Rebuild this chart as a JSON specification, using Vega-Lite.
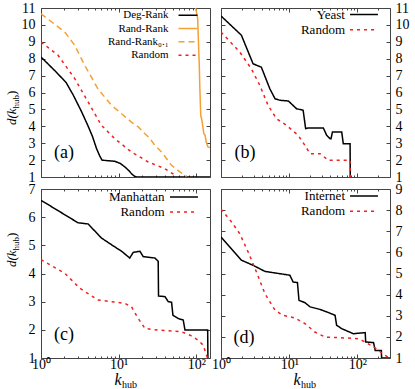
{
"$schema": "https://vega.github.io/schema/vega-lite/v6.json",
"padding": {"left": 4, "top": 0, "right": 0, "bottom": 0},
"config": {
  "view": {"stroke": "#444", "strokeWidth": 1},
  "axis": {"grid": false, "domain": false, "tickColor": "#444", "tickWidth": 1, "labelFont": "Liberation Serif", "labelFontSize": 14, "labelColor": "#000", "titleFont": "Liberation Serif", "titleColor": "#000", "titleFontWeight": "normal", "labelFlush": false, "labelOverlap": false, "labelBound": false},
  "text": {"font": "Liberation Serif"}
},
"datasets": {
  "a": [
    {"series": "Deg-Rank", "k": 1, "d": 8.1}, {"series": "Deg-Rank", "k": 1.5, "d": 7.3}, {"series": "Deg-Rank", "k": 2.1, "d": 6.6}, {"series": "Deg-Rank", "k": 2.6, "d": 5.85}, {"series": "Deg-Rank", "k": 3.3, "d": 4.9}, {"series": "Deg-Rank", "k": 4.0, "d": 4.06}, {"series": "Deg-Rank", "k": 4.6, "d": 3.4}, {"series": "Deg-Rank", "k": 5.2, "d": 2.67}, {"series": "Deg-Rank", "k": 5.7, "d": 2.25}, {"series": "Deg-Rank", "k": 6.1, "d": 2.0}, {"series": "Deg-Rank", "k": 7, "d": 1.97}, {"series": "Deg-Rank", "k": 8.9, "d": 1.93}, {"series": "Deg-Rank", "k": 10.5, "d": 1.8}, {"series": "Deg-Rank", "k": 12, "d": 1.6}, {"series": "Deg-Rank", "k": 13.5, "d": 1.38}, {"series": "Deg-Rank", "k": 14.6, "d": 1.2}, {"series": "Deg-Rank", "k": 16, "d": 1.04}, {"series": "Deg-Rank", "k": 17, "d": 1.0}, {"series": "Deg-Rank", "k": 150, "d": 1.0},
    {"series": "Rand-Rank", "k": 96, "d": 11.2}, {"series": "Rand-Rank", "k": 104, "d": 10.4}, {"series": "Rand-Rank", "k": 109.5, "d": 7.4}, {"series": "Rand-Rank", "k": 110.7, "d": 6.4}, {"series": "Rand-Rank", "k": 114, "d": 4.65}, {"series": "Rand-Rank", "k": 118, "d": 4.36}, {"series": "Rand-Rank", "k": 125, "d": 3.56}, {"series": "Rand-Rank", "k": 130, "d": 3.46}, {"series": "Rand-Rank", "k": 134, "d": 3.07}, {"series": "Rand-Rank", "k": 141, "d": 2.78}, {"series": "Rand-Rank", "k": 150, "d": 2.75},
    {"series": "Rand-Rank₀.₁", "k": 1, "d": 10.66}, {"series": "Rand-Rank₀.₁", "k": 2.02, "d": 9.58}, {"series": "Rand-Rank₀.₁", "k": 2.72, "d": 8.79}, {"series": "Rand-Rank₀.₁", "k": 3.66, "d": 7.6}, {"series": "Rand-Rank₀.₁", "k": 5.4, "d": 6.22}, {"series": "Rand-Rank₀.₁", "k": 8.1, "d": 5.24}, {"series": "Rand-Rank₀.₁", "k": 14.6, "d": 4.25}, {"series": "Rand-Rank₀.₁", "k": 18, "d": 3.95}, {"series": "Rand-Rank₀.₁", "k": 21.8, "d": 3.56}, {"series": "Rand-Rank₀.₁", "k": 25, "d": 3.3}, {"series": "Rand-Rank₀.₁", "k": 29.3, "d": 2.87}, {"series": "Rand-Rank₀.₁", "k": 35.7, "d": 2.48}, {"series": "Rand-Rank₀.₁", "k": 42, "d": 2.05}, {"series": "Rand-Rank₀.₁", "k": 48, "d": 1.69}, {"series": "Rand-Rank₀.₁", "k": 61.5, "d": 1.3}, {"series": "Rand-Rank₀.₁", "k": 75, "d": 1.04},
    {"series": "Random", "k": 1, "d": 8.99}, {"series": "Random", "k": 1.66, "d": 8.2}, {"series": "Random", "k": 2.72, "d": 6.82}, {"series": "Random", "k": 4.04, "d": 5.44}, {"series": "Random", "k": 6.0, "d": 4.06}, {"series": "Random", "k": 8.9, "d": 3.27}, {"series": "Random", "k": 14.6, "d": 2.48}, {"series": "Random", "k": 24, "d": 1.89}, {"series": "Random", "k": 39.5, "d": 1.49}, {"series": "Random", "k": 56, "d": 1.04}
  ],
  "b": [
    {"series": "Yeast", "k": 1, "d": 10.53}, {"series": "Yeast", "k": 1.99, "d": 9.39}, {"series": "Yeast", "k": 2.95, "d": 7.7}, {"series": "Yeast", "k": 3.9, "d": 7.5}, {"series": "Yeast", "k": 5.2, "d": 6.22}, {"series": "Yeast", "k": 6.2, "d": 5.63}, {"series": "Yeast", "k": 7.3, "d": 5.54}, {"series": "Yeast", "k": 9.7, "d": 5.5}, {"series": "Yeast", "k": 12.8, "d": 5.04}, {"series": "Yeast", "k": 16, "d": 4.95}, {"series": "Yeast", "k": 17.4, "d": 3.86}, {"series": "Yeast", "k": 19, "d": 3.9}, {"series": "Yeast", "k": 31.6, "d": 3.9}, {"series": "Yeast", "k": 35.4, "d": 3.47}, {"series": "Yeast", "k": 39.6, "d": 3.27}, {"series": "Yeast", "k": 41, "d": 3.27}, {"series": "Yeast", "k": 43, "d": 3.66}, {"series": "Yeast", "k": 58.8, "d": 3.66}, {"series": "Yeast", "k": 62, "d": 2.97}, {"series": "Yeast", "k": 78, "d": 2.97}, {"series": "Yeast", "k": 78.5, "d": 1.0},
    {"series": "Random", "k": 1, "d": 9.58}, {"series": "Random", "k": 1.88, "d": 8.4}, {"series": "Random", "k": 2.79, "d": 7.4}, {"series": "Random", "k": 3.7, "d": 6.43}, {"series": "Random", "k": 4.9, "d": 5.24}, {"series": "Random", "k": 6.5, "d": 4.45}, {"series": "Random", "k": 9.1, "d": 4.06}, {"series": "Random", "k": 13.5, "d": 3.47}, {"series": "Random", "k": 17, "d": 2.87}, {"series": "Random", "k": 20.2, "d": 2.38}, {"series": "Random", "k": 28.3, "d": 2.38}, {"series": "Random", "k": 37.5, "d": 1.99}, {"series": "Random", "k": 78, "d": 1.99}, {"series": "Random", "k": 78.5, "d": 1.0}
  ],
  "c": [
    {"series": "Manhattan", "k": 1, "d": 6.6}, {"series": "Manhattan", "k": 3.0, "d": 5.8}, {"series": "Manhattan", "k": 4.04, "d": 5.76}, {"series": "Manhattan", "k": 6, "d": 5.26}, {"series": "Manhattan", "k": 8.1, "d": 5.02}, {"series": "Manhattan", "k": 10.9, "d": 4.79}, {"series": "Manhattan", "k": 13.9, "d": 4.55}, {"series": "Manhattan", "k": 15.4, "d": 4.75}, {"series": "Manhattan", "k": 18.8, "d": 4.79}, {"series": "Manhattan", "k": 20.7, "d": 4.6}, {"series": "Manhattan", "k": 29.3, "d": 4.55}, {"series": "Manhattan", "k": 32.3, "d": 4.43}, {"series": "Manhattan", "k": 32.6, "d": 3.2}, {"series": "Manhattan", "k": 39.5, "d": 3.18}, {"series": "Manhattan", "k": 43.5, "d": 3.0}, {"series": "Manhattan", "k": 48, "d": 2.98}, {"series": "Manhattan", "k": 50, "d": 2.52}, {"series": "Manhattan", "k": 58.6, "d": 2.4}, {"series": "Manhattan", "k": 67.8, "d": 2.35}, {"series": "Manhattan", "k": 71.5, "d": 1.99}, {"series": "Manhattan", "k": 140, "d": 1.99}, {"series": "Manhattan", "k": 141, "d": 1.0},
    {"series": "Random", "k": 1, "d": 4.49}, {"series": "Random", "k": 2.02, "d": 4.01}, {"series": "Random", "k": 3.15, "d": 3.48}, {"series": "Random", "k": 5.4, "d": 3.06}, {"series": "Random", "k": 8.1, "d": 3.0}, {"series": "Random", "k": 12, "d": 2.94}, {"series": "Random", "k": 14.6, "d": 2.82}, {"series": "Random", "k": 17.9, "d": 2.4}, {"series": "Random", "k": 21.8, "d": 2.05}, {"series": "Random", "k": 32.3, "d": 1.99}, {"series": "Random", "k": 64.7, "d": 1.93}, {"series": "Random", "k": 83, "d": 1.81}, {"series": "Random", "k": 106, "d": 1.63}, {"series": "Random", "k": 123, "d": 1.45}, {"series": "Random", "k": 135, "d": 1.1}, {"series": "Random", "k": 140, "d": 1.0}
  ],
  "d": [
    {"series": "Internet", "k": 1, "d": 6.73}, {"series": "Internet", "k": 1.99, "d": 5.63}, {"series": "Internet", "k": 2.95, "d": 5.39}, {"series": "Internet", "k": 4.4, "d": 5.1}, {"series": "Internet", "k": 7.3, "d": 4.99}, {"series": "Internet", "k": 10.2, "d": 4.92}, {"series": "Internet", "k": 11.4, "d": 4.6}, {"series": "Internet", "k": 13.2, "d": 4.57}, {"series": "Internet", "k": 13.9, "d": 3.73}, {"series": "Internet", "k": 17, "d": 3.62}, {"series": "Internet", "k": 20.2, "d": 3.42}, {"series": "Internet", "k": 28.3, "d": 3.3}, {"series": "Internet", "k": 37.5, "d": 3.15}, {"series": "Internet", "k": 47, "d": 3.02}, {"series": "Internet", "k": 49.5, "d": 2.55}, {"series": "Internet", "k": 58.8, "d": 2.39}, {"series": "Internet", "k": 87, "d": 2.15}, {"series": "Internet", "k": 130, "d": 2.2}, {"series": "Internet", "k": 132, "d": 1.76}, {"series": "Internet", "k": 172, "d": 1.73}, {"series": "Internet", "k": 182, "d": 1.36}, {"series": "Internet", "k": 224, "d": 1.36}, {"series": "Internet", "k": 226, "d": 1.0}, {"series": "Internet", "k": 300, "d": 1.0},
    {"series": "Random", "k": 1, "d": 8.05}, {"series": "Random", "k": 1.42, "d": 7.45}, {"series": "Random", "k": 1.88, "d": 6.89}, {"series": "Random", "k": 2.5, "d": 6.02}, {"series": "Random", "k": 3.3, "d": 5.08}, {"series": "Random", "k": 4.4, "d": 4.05}, {"series": "Random", "k": 6.2, "d": 3.26}, {"series": "Random", "k": 8.1, "d": 3.02}, {"series": "Random", "k": 12.1, "d": 2.9}, {"series": "Random", "k": 17, "d": 2.63}, {"series": "Random", "k": 23.8, "d": 2.23}, {"series": "Random", "k": 33.5, "d": 1.99}, {"series": "Random", "k": 66, "d": 1.95}, {"series": "Random", "k": 103, "d": 1.91}, {"series": "Random", "k": 130, "d": 1.76}, {"series": "Random", "k": 182, "d": 1.47}, {"series": "Random", "k": 255, "d": 1.12}, {"series": "Random", "k": 300, "d": 1.0}
  ]
},
"columns": 2,
"bounds": "flush",
"spacing": {"row": 12, "column": 11},
"resolve": {"scale": {"x": "independent", "y": "independent", "color": "independent", "strokeDash": "independent"}, "legend": {"color": "independent", "strokeDash": "independent"}},
"concat": [
{
  "width": 169, "height": 169,
  "data": {"name": "a"},
  "resolve": {"axis": {"x": "independent", "y": "independent"}},
  "layer": [
    {"mark": {"type": "line", "strokeWidth": 1.5, "clip": true, "strokeCap": "butt"},
     "encoding": {
       "x": {"field": "k", "type": "quantitative", "scale": {"type": "log", "domain": [1, 150], "nice": false}, "axis": {"orient": "bottom", "values": [1, 10, 100], "tickSize": -4, "labels": false, "title": null}},
       "y": {"field": "d", "type": "quantitative", "scale": {"domain": [1, 11], "nice": false, "zero": false}, "axis": {"orient": "left", "values": [1,2,3,4,5,6,7,8,9,10,11], "tickSize": -4, "labelPadding": 10, "title": "d(k", "titleFontStyle": "italic", "titleFontSize": 13, "titleAngle": 270, "titleX": -26, "titleY": 116.5, "titleAlign": "left", "titleBaseline": "alphabetic"}},
       "color": {"field": "series", "type": "nominal", "scale": {"domain": ["Deg-Rank", "Rand-Rank", "Rand-Rank₀.₁", "Random"], "range": ["#000000", "#f5a033", "#f5a033", "#f02020"]},
         "legend": {"title": null, "orient": "none", "legendX": 139.5, "legendY": -0.25, "labelFont": "Liberation Serif", "labelFontSize": 11, "labelColor": "#000", "labelAlign": "right", "labelOffset": -27, "labelLimit": 0, "symbolType": "M-1.46,0H1.46", "symbolSize": 169, "symbolStrokeWidth": 1.5, "rowPadding": 0.3, "padding": 0}},
       "strokeDash": {"field": "series", "type": "nominal", "scale": {"domain": ["Deg-Rank", "Rand-Rank", "Rand-Rank₀.₁", "Random"], "range": [[1, 0], [1, 0], [6, 4], [3, 4]]},
         "legend": {"title": null, "orient": "none", "legendX": 139.5, "legendY": -0.25, "labelFont": "Liberation Serif", "labelFontSize": 11, "labelColor": "#000", "labelAlign": "right", "labelOffset": -27, "labelLimit": 0, "symbolType": "M-1.46,0H1.46", "symbolSize": 169, "symbolStrokeWidth": 1.5, "rowPadding": 0.3, "padding": 0}}
     }},
    {"mark": {"type": "point", "opacity": 0},
     "encoding": {
       "x": {"field": "k", "type": "quantitative", "scale": {"type": "log", "domain": [1, 150], "nice": false}, "axis": {"orient": "bottom", "values": [2,3,4,5,6,7,8,9,20,30,40,50,60,70,80,90], "tickSize": -2, "labels": false, "title": null}},
       "y": {"field": "d", "type": "quantitative", "scale": {"domain": [1, 11], "nice": false, "zero": false}, "axis": {"orient": "right", "values": [1,2,3,4,5,6,7,8,9,10,11], "tickSize": -4, "labels": false, "title": null}}
     }},
    {"mark": {"type": "point", "opacity": 0},
     "encoding": {
       "x": {"field": "k", "type": "quantitative", "scale": {"type": "log", "domain": [1, 150], "nice": false}, "axis": {"orient": "top", "values": [1, 10, 100], "tickSize": -4, "labels": false, "title": null}},
       "y": {"field": "d", "type": "quantitative", "scale": {"domain": [1, 11], "nice": false, "zero": false}, "axis": {"orient": "left", "ticks": false, "labels": false, "title": "hub", "titleFontSize": 9, "titleAngle": 270, "titleX": -23, "titleY": 99.9, "titleAlign": "left", "titleBaseline": "alphabetic"}}
     }},
    {"mark": {"type": "point", "opacity": 0},
     "encoding": {
       "x": {"field": "k", "type": "quantitative", "scale": {"type": "log", "domain": [1, 150], "nice": false}, "axis": {"orient": "top", "values": [2,3,4,5,6,7,8,9,20,30,40,50,60,70,80,90], "tickSize": -2, "labels": false, "title": null}},
       "y": {"field": "d", "type": "quantitative", "scale": {"domain": [1, 11], "nice": false, "zero": false}, "axis": {"orient": "left", "ticks": false, "labels": false, "title": ")", "titleFontSize": 13, "titleAngle": 270, "titleX": -26, "titleY": 86.4, "titleAlign": "left", "titleBaseline": "alphabetic"}}
     }},
    {"data": {"values": [{"label": "(a)"}]},
     "mark": {"type": "text", "fontSize": 18, "align": "center", "baseline": "middle", "font": "Liberation Serif"},
     "encoding": {
       "x": {"datum": 1.98, "type": "quantitative", "axis": null},
       "y": {"datum": 2.42, "type": "quantitative", "axis": null},
       "text": {"field": "label"}
     }}
  ]
},
{
  "width": 169, "height": 169,
  "data": {"name": "b"},
  "resolve": {"axis": {"x": "independent", "y": "independent"}},
  "layer": [
    {"mark": {"type": "line", "strokeWidth": 1.5, "clip": true, "strokeCap": "butt"},
     "encoding": {
       "x": {"field": "k", "type": "quantitative", "scale": {"type": "log", "domain": [1, 300], "nice": false}, "axis": {"orient": "bottom", "values": [1, 10, 100], "tickSize": -4, "labels": false, "title": null}},
       "y": {"field": "d", "type": "quantitative", "scale": {"domain": [1, 11], "nice": false, "zero": false}, "axis": {"orient": "right", "values": [1,2,3,4,5,6,7,8,9,10,11], "tickSize": -4, "labelPadding": 9, "labelAlign": "left", "title": null}},
       "color": {"field": "series", "type": "nominal", "scale": {"domain": ["Yeast", "Random"], "range": ["#000000", "#f02020"]},
         "legend": {"title": null, "orient": "none", "legendX": 135.5, "legendY": -0.95, "labelFont": "Liberation Serif", "labelFontSize": 13, "labelColor": "#000", "labelAlign": "right", "labelOffset": -26.5, "labelLimit": 0, "symbolType": "M-2.15,0H2.15", "symbolSize": 169, "symbolStrokeWidth": 1.5, "rowPadding": 0.3, "padding": 0}},
       "strokeDash": {"field": "series", "type": "nominal", "scale": {"domain": ["Yeast", "Random"], "range": [[1, 0], [3, 4]]},
         "legend": {"title": null, "orient": "none", "legendX": 135.5, "legendY": -0.95, "labelFont": "Liberation Serif", "labelFontSize": 13, "labelColor": "#000", "labelAlign": "right", "labelOffset": -26.5, "labelLimit": 0, "symbolType": "M-2.15,0H2.15", "symbolSize": 169, "symbolStrokeWidth": 1.5, "rowPadding": 0.3, "padding": 0}}
     }},
    {"mark": {"type": "point", "opacity": 0},
     "encoding": {
       "x": {"field": "k", "type": "quantitative", "scale": {"type": "log", "domain": [1, 300], "nice": false}, "axis": {"orient": "bottom", "values": [2,3,4,5,6,7,8,9,20,30,40,50,60,70,80,90,200], "tickSize": -2, "labels": false, "title": null}},
       "y": {"field": "d", "type": "quantitative", "scale": {"domain": [1, 11], "nice": false, "zero": false}, "axis": {"orient": "left", "values": [1,2,3,4,5,6,7,8,9,10,11], "tickSize": -4, "labels": false, "title": null}}
     }},
    {"mark": {"type": "point", "opacity": 0},
     "encoding": {
       "x": {"field": "k", "type": "quantitative", "scale": {"type": "log", "domain": [1, 300], "nice": false}, "axis": {"orient": "top", "values": [1, 10, 100], "tickSize": -4, "labels": false, "title": null}},
       "y": {"field": "d", "type": "quantitative", "scale": {"domain": [1, 11], "nice": false, "zero": false}, "axis": null}
     }},
    {"mark": {"type": "point", "opacity": 0},
     "encoding": {
       "x": {"field": "k", "type": "quantitative", "scale": {"type": "log", "domain": [1, 300], "nice": false}, "axis": {"orient": "top", "values": [2,3,4,5,6,7,8,9,20,30,40,50,60,70,80,90,200], "tickSize": -2, "labels": false, "title": null}},
       "y": {"field": "d", "type": "quantitative", "scale": {"domain": [1, 11], "nice": false, "zero": false}, "axis": null}
     }},
    {"data": {"values": [{"label": "(b)"}]},
     "mark": {"type": "text", "fontSize": 18, "align": "center", "baseline": "middle", "font": "Liberation Serif"},
     "encoding": {
       "x": {"datum": 2.25, "type": "quantitative", "axis": null},
       "y": {"datum": 2.42, "type": "quantitative", "axis": null},
       "text": {"field": "label"}
     }}
  ]
},
{
  "width": 169, "height": 169,
  "data": {"name": "c"},
  "resolve": {"axis": {"x": "independent", "y": "independent"}},
  "layer": [
    {"mark": {"type": "line", "strokeWidth": 1.5, "clip": true, "strokeCap": "butt"},
     "encoding": {
       "x": {"field": "k", "type": "quantitative", "scale": {"type": "log", "domain": [1, 150], "nice": false}, "axis": {"orient": "bottom", "values": [1, 10, 100], "tickSize": -4, "labelPadding": 3, "labelExpr": "datum.value == 1 ? '10⁰' : datum.value == 10 ? '10¹' : '10²'", "title": "k", "titleFontStyle": "italic", "titleFontSize": 16, "titleX": 73, "titleY": 26, "titleAlign": "left", "titleBaseline": "alphabetic", "titleAngle": 0}},
       "y": {"field": "d", "type": "quantitative", "scale": {"domain": [1, 7], "nice": false, "zero": false}, "axis": {"orient": "left", "values": [1,2,3,4,5,6,7], "tickSize": -4, "labelPadding": 10, "title": "d(k", "titleFontStyle": "italic", "titleFontSize": 13, "titleAngle": 270, "titleX": -26, "titleY": 77.5, "titleAlign": "left", "titleBaseline": "alphabetic"}},
       "color": {"field": "series", "type": "nominal", "scale": {"domain": ["Manhattan", "Random"], "range": ["#000000", "#f02020"]},
         "legend": {"title": null, "orient": "none", "legendX": 135.5, "legendY": 0.5, "labelFont": "Liberation Serif", "labelFontSize": 13, "labelColor": "#000", "labelAlign": "right", "labelOffset": -27, "labelLimit": 0, "symbolType": "M-2.15,0H2.15", "symbolSize": 169, "symbolStrokeWidth": 1.5, "rowPadding": 0, "padding": 0}},
       "strokeDash": {"field": "series", "type": "nominal", "scale": {"domain": ["Manhattan", "Random"], "range": [[1, 0], [3, 4]]},
         "legend": {"title": null, "orient": "none", "legendX": 135.5, "legendY": 0.5, "labelFont": "Liberation Serif", "labelFontSize": 13, "labelColor": "#000", "labelAlign": "right", "labelOffset": -27, "labelLimit": 0, "symbolType": "M-2.15,0H2.15", "symbolSize": 169, "symbolStrokeWidth": 1.5, "rowPadding": 0, "padding": 0}}
     }},
    {"mark": {"type": "point", "opacity": 0},
     "encoding": {
       "x": {"field": "k", "type": "quantitative", "scale": {"type": "log", "domain": [1, 150], "nice": false}, "axis": {"orient": "bottom", "values": [2,3,4,5,6,7,8,9,20,30,40,50,60,70,80,90], "tickSize": -2, "labels": false, "title": "hub", "titleFontSize": 10, "titleX": 80.5, "titleY": 29, "titleAlign": "left", "titleBaseline": "alphabetic", "titleAngle": 0}},
       "y": {"field": "d", "type": "quantitative", "scale": {"domain": [1, 7], "nice": false, "zero": false}, "axis": {"orient": "right", "values": [1,2,3,4,5,6,7], "tickSize": -4, "labels": false, "title": null}}
     }},
    {"mark": {"type": "point", "opacity": 0},
     "encoding": {
       "x": {"field": "k", "type": "quantitative", "scale": {"type": "log", "domain": [1, 150], "nice": false}, "axis": {"orient": "top", "values": [1, 10, 100], "tickSize": -4, "labels": false, "title": null}},
       "y": {"field": "d", "type": "quantitative", "scale": {"domain": [1, 7], "nice": false, "zero": false}, "axis": {"orient": "left", "ticks": false, "labels": false, "title": "hub", "titleFontSize": 9, "titleAngle": 270, "titleX": -23, "titleY": 60.9, "titleAlign": "left", "titleBaseline": "alphabetic"}}
     }},
    {"mark": {"type": "point", "opacity": 0},
     "encoding": {
       "x": {"field": "k", "type": "quantitative", "scale": {"type": "log", "domain": [1, 150], "nice": false}, "axis": {"orient": "top", "values": [2,3,4,5,6,7,8,9,20,30,40,50,60,70,80,90], "tickSize": -2, "labels": false, "title": null}},
       "y": {"field": "d", "type": "quantitative", "scale": {"domain": [1, 7], "nice": false, "zero": false}, "axis": {"orient": "left", "ticks": false, "labels": false, "title": ")", "titleFontSize": 13, "titleAngle": 270, "titleX": -26, "titleY": 47.4, "titleAlign": "left", "titleBaseline": "alphabetic"}}
     }},
    {"data": {"values": [{"label": "(c)"}]},
     "mark": {"type": "text", "fontSize": 18, "align": "center", "baseline": "middle", "font": "Liberation Serif"},
     "encoding": {
       "x": {"datum": 1.98, "type": "quantitative", "axis": null},
       "y": {"datum": 1.8, "type": "quantitative", "axis": null},
       "text": {"field": "label"}
     }}
  ]
},
{
  "width": 169, "height": 169,
  "data": {"name": "d"},
  "resolve": {"axis": {"x": "independent", "y": "independent"}},
  "layer": [
    {"mark": {"type": "line", "strokeWidth": 1.5, "clip": true, "strokeCap": "butt"},
     "encoding": {
       "x": {"field": "k", "type": "quantitative", "scale": {"type": "log", "domain": [1, 300], "nice": false}, "axis": {"orient": "bottom", "values": [1, 10, 100], "tickSize": -4, "labelPadding": 3, "labelExpr": "datum.value == 1 ? '10⁰' : datum.value == 10 ? '10¹' : '10²'", "title": "k", "titleFontStyle": "italic", "titleFontSize": 16, "titleX": 72, "titleY": 26, "titleAlign": "left", "titleBaseline": "alphabetic", "titleAngle": 0}},
       "y": {"field": "d", "type": "quantitative", "scale": {"domain": [1, 9], "nice": false, "zero": false}, "axis": {"orient": "right", "values": [1,2,3,4,5,6,7,8,9], "tickSize": -4, "labelPadding": 9, "labelAlign": "left", "title": null}},
       "color": {"field": "series", "type": "nominal", "scale": {"domain": ["Internet", "Random"], "range": ["#000000", "#f02020"]},
         "legend": {"title": null, "orient": "none", "legendX": 135.5, "legendY": -0.45, "labelFont": "Liberation Serif", "labelFontSize": 13, "labelColor": "#000", "labelAlign": "right", "labelOffset": -26.5, "labelLimit": 0, "symbolType": "M-2.15,0H2.15", "symbolSize": 169, "symbolStrokeWidth": 1.5, "rowPadding": 0.3, "padding": 0}},
       "strokeDash": {"field": "series", "type": "nominal", "scale": {"domain": ["Internet", "Random"], "range": [[1, 0], [3, 4]]},
         "legend": {"title": null, "orient": "none", "legendX": 135.5, "legendY": -0.45, "labelFont": "Liberation Serif", "labelFontSize": 13, "labelColor": "#000", "labelAlign": "right", "labelOffset": -26.5, "labelLimit": 0, "symbolType": "M-2.15,0H2.15", "symbolSize": 169, "symbolStrokeWidth": 1.5, "rowPadding": 0.3, "padding": 0}}
     }},
    {"mark": {"type": "point", "opacity": 0},
     "encoding": {
       "x": {"field": "k", "type": "quantitative", "scale": {"type": "log", "domain": [1, 300], "nice": false}, "axis": {"orient": "bottom", "values": [2,3,4,5,6,7,8,9,20,30,40,50,60,70,80,90,200], "tickSize": -2, "labels": false, "title": "hub", "titleFontSize": 10, "titleX": 79.5, "titleY": 29, "titleAlign": "left", "titleBaseline": "alphabetic", "titleAngle": 0}},
       "y": {"field": "d", "type": "quantitative", "scale": {"domain": [1, 9], "nice": false, "zero": false}, "axis": {"orient": "left", "values": [1,2,3,4,5,6,7,8,9], "tickSize": -4, "labels": false, "title": null}}
     }},
    {"mark": {"type": "point", "opacity": 0},
     "encoding": {
       "x": {"field": "k", "type": "quantitative", "scale": {"type": "log", "domain": [1, 300], "nice": false}, "axis": {"orient": "top", "values": [1, 10, 100], "tickSize": -4, "labels": false, "title": null}},
       "y": {"field": "d", "type": "quantitative", "scale": {"domain": [1, 9], "nice": false, "zero": false}, "axis": null}
     }},
    {"mark": {"type": "point", "opacity": 0},
     "encoding": {
       "x": {"field": "k", "type": "quantitative", "scale": {"type": "log", "domain": [1, 300], "nice": false}, "axis": {"orient": "top", "values": [2,3,4,5,6,7,8,9,20,30,40,50,60,70,80,90,200], "tickSize": -2, "labels": false, "title": null}},
       "y": {"field": "d", "type": "quantitative", "scale": {"domain": [1, 9], "nice": false, "zero": false}, "axis": null}
     }},
    {"data": {"values": [{"label": "(d)"}]},
     "mark": {"type": "text", "fontSize": 18, "align": "center", "baseline": "middle", "font": "Liberation Serif"},
     "encoding": {
       "x": {"datum": 2.17, "type": "quantitative", "axis": null},
       "y": {"datum": 1.97, "type": "quantitative", "axis": null},
       "text": {"field": "label"}
     }}
  ]
}
]
}
